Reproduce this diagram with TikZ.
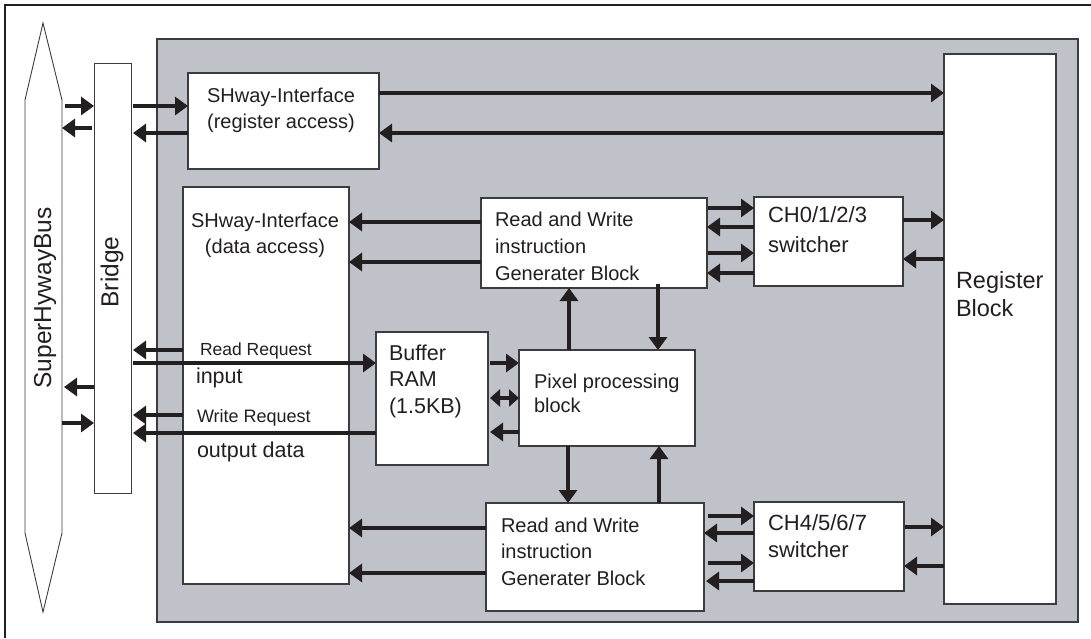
\documentclass[tikz,border=0pt]{standalone}
\usepackage{fontspec}
\setmainfont{Liberation Sans}
\usetikzlibrary{arrows.meta}
\definecolor{panel}{RGB}{192,194,201}
\definecolor{ink}{RGB}{35,31,32}
\definecolor{edge}{RGB}{60,60,62}
\begin{document}
\begin{tikzpicture}[x=1pt,y=-1pt,
  box/.style={draw=edge, line width=1.1pt, fill=white, inner sep=0pt, outer sep=0pt, anchor=north west},
  thinbox/.style={box, line width=0.9pt},
  arr/.style={line width=3.4pt, draw=ink, -{Triangle[length=13pt,width=18pt]}},
  dblarr/.style={line width=3.4pt, draw=ink, {Triangle[length=10pt,width=17pt]}-{Triangle[length=10pt,width=17pt]}},
  txt/.style={inner sep=0pt, outer sep=0pt, align=left, text=ink, anchor=base west},
  ctxt/.style={inner sep=0pt, outer sep=0pt, align=center, text=ink, anchor=base},
  f20/.style={font=\fontsize{20}{27}\selectfont},
]
\useasboundingbox (0,0) rectangle (1091,638);
% outer frame
\draw[line width=2pt, draw=ink] (5,638) -- (5,5) -- (1091,5);
% grey panel
\draw[fill=panel, draw=edge, line width=1.3pt] (157,39) rectangle (1078,622);
% bus
\draw[draw=edge, line width=0.9pt, fill=white] (43,23) -- (62,100) -- (62,533) -- (43,612) -- (25,533) -- (25,100) -- cycle;
\coordinate (busR) at (62,300);
\node[ctxt, rotate=90, anchor=center, font=\fontsize{24.5}{28}\selectfont] (tbus) at (45,298) {SuperHywayBus};
% boxes
\node[thinbox, minimum width=37pt, minimum height=430pt] (bridge) at (94,63) {};
\node[ctxt, rotate=90, anchor=center, font=\fontsize{24.5}{28}\selectfont] (tbridge) at (112,272) {Bridge};
\node[box, minimum width=191pt, minimum height=96pt] (shr) at (188,73) {};
\node[box, minimum width=166pt, minimum height=397pt] (shd) at (183,187) {};
\node[box, minimum width=112pt, minimum height=550pt] (reg) at (944,54) {};
\node[box, minimum width=226pt, minimum height=90pt] (rwt) at (481,198) {};
\node[box, minimum width=149pt, minimum height=89pt] (ch0) at (754,197) {};
\node[box, minimum width=112pt, minimum height=133pt] (buf) at (376,332) {};
\node[box, minimum width=176pt, minimum height=96pt] (pix) at (519,350) {};
\node[box, minimum width=218pt, minimum height=108pt] (rwb) at (486,503) {};
\node[box, minimum width=150pt, minimum height=89pt] (ch4) at (754,502) {};
% texts (base anchor = baseline of the last line)
\node[ctxt, font=\fontsize{20}{26}\selectfont] (tshr) at (281,128) {SHway-Interface\\(register access)};
\node[ctxt, font=\fontsize{20}{26}\selectfont] (tshd) at (265,253) {SHway-Interface\\(data access)};
\node[txt, font=\fontsize{23.5}{28}\selectfont] (treg) at (956,316) {Register\\Block};
\node[txt, f20] (trwt) at (495,280) {Read and Write\\instruction\\Generater Block};
\node[txt, font=\fontsize{20}{26.5}\selectfont] (trwb) at (501,585) {Read and Write\\instruction\\Generater Block};
\node[txt, font=\fontsize{21.5}{26.5}\selectfont] (tbuf) at (389,413) {Buffer\\RAM\\(1.5KB)};
\node[txt, font=\fontsize{20}{24}\selectfont] (tpix) at (534,412) {Pixel processing\\block};
\node[txt, font=\fontsize{22}{30}\selectfont] (tch0) at (768,252) {CH0/1/2/3\\switcher};
\node[txt, font=\fontsize{22}{27}\selectfont] (tch4) at (768,557) {CH4/5/6/7\\switcher};
\node[txt, font=\fontsize{17.5}{20}\selectfont] (trr) at (200,355) {Read Request};
\node[txt, font=\fontsize{18}{20}\selectfont] (twr) at (197,422) {Write Request};
\node[txt, font=\fontsize{21.5}{24}\selectfont] (tin) at (196,383) {input};
\node[txt, font=\fontsize{21.5}{24}\selectfont] (tout) at (197,457) {output data};
% bus <-> bridge
\draw[arr] ([xshift=3pt]busR |- 0,106) -- (bridge.west |- 0,106);
\draw[arr] ([xshift=-2pt]bridge.west |- 0,128) -- (busR |- 0,128);
\draw[arr] (bridge.west |- 0,387) -- ([xshift=2pt]busR |- 0,387);
\draw[arr] (busR |- 0,423) -- (bridge.west |- 0,423);
% bridge <-> SHway register
\draw[arr] ([xshift=2pt]bridge.east |- 0,106) -- (shr.west |- 0,106);
\draw[arr] (shr.west |- 0,133) -- ([xshift=2pt]bridge.east |- 0,133);
% SHway register <-> register block
\draw[arr] (shr.east |- 0,93) -- (reg.west |- 0,93);
\draw[arr] (reg.west |- 0,133) -- (shr.east |- 0,133);
% bridge <-> SHway data / buffer
\draw[arr] (shd.west |- 0,350) -- ([xshift=2pt]bridge.east |- 0,350);
\draw[arr] ([xshift=2pt]bridge.east |- 0,363) -- (buf.west |- 0,363);
\draw[arr] (shd.west |- 0,415) -- ([xshift=2pt]bridge.east |- 0,415);
\draw[arr] (buf.west |- 0,433) -- ([xshift=2pt]bridge.east |- 0,433);
% RW top -> SHway data
\draw[arr] (rwt.west |- 0,222) -- (shd.east |- 0,222);
\draw[arr] (rwt.west |- 0,262) -- (shd.east |- 0,262);
% RW bottom -> SHway data
\draw[arr] (rwb.west |- 0,528) -- (shd.east |- 0,528);
\draw[arr] (rwb.west |- 0,573) -- (shd.east |- 0,573);
% RW top <-> CH0
\draw[arr] ([xshift=1pt]rwt.east |- 0,208) -- (ch0.west |- 0,208);
\draw[arr] (ch0.west |- 0,227) -- (rwt.east |- 0,227);
\draw[arr] ([xshift=1pt]rwt.east |- 0,253) -- (ch0.west |- 0,253);
\draw[arr] (ch0.west |- 0,273) -- (rwt.east |- 0,273);
% CH0 <-> register
\draw[arr] (ch0.east |- 0,220) -- (reg.west |- 0,220);
\draw[arr] (reg.west |- 0,259) -- (ch0.east |- 0,259);
% RW bottom <-> CH4
\draw[arr] ([xshift=4pt]rwb.east |- 0,516) -- (ch4.west |- 0,516);
\draw[arr] (ch4.west |- 0,533) -- (rwb.east |- 0,533);
\draw[arr] ([xshift=4pt]rwb.east |- 0,563) -- (ch4.west |- 0,563);
\draw[arr] (ch4.west |- 0,581) -- ([xshift=2pt]rwb.east |- 0,581);
% CH4 <-> register
\draw[arr] ([xshift=1pt]ch4.east |- 0,527) -- (reg.west |- 0,527);
\draw[arr] (reg.west |- 0,566) -- (ch4.east |- 0,566);
% buffer <-> pixel
\draw[arr] ([xshift=2pt]buf.east |- 0,363) -- (pix.west |- 0,363);
\draw[dblarr] ([xshift=2pt]buf.east |- 0,398) -- (pix.west |- 0,398);
\draw[arr] (pix.west |- 0,432) -- ([xshift=2pt]buf.east |- 0,432);
% pixel <-> RW blocks
\draw[arr] (pix.north -| 569,0) -- (rwt.south -| 569,0);
\draw[arr] ([yshift=4pt]rwt.south -| 658,0) -- (pix.north -| 658,0);
\draw[arr] (pix.south -| 568,0) -- (rwb.north -| 568,0);
\draw[arr] (rwb.north -| 659,0) -- (pix.south -| 659,0);
\end{tikzpicture}
\end{document}
